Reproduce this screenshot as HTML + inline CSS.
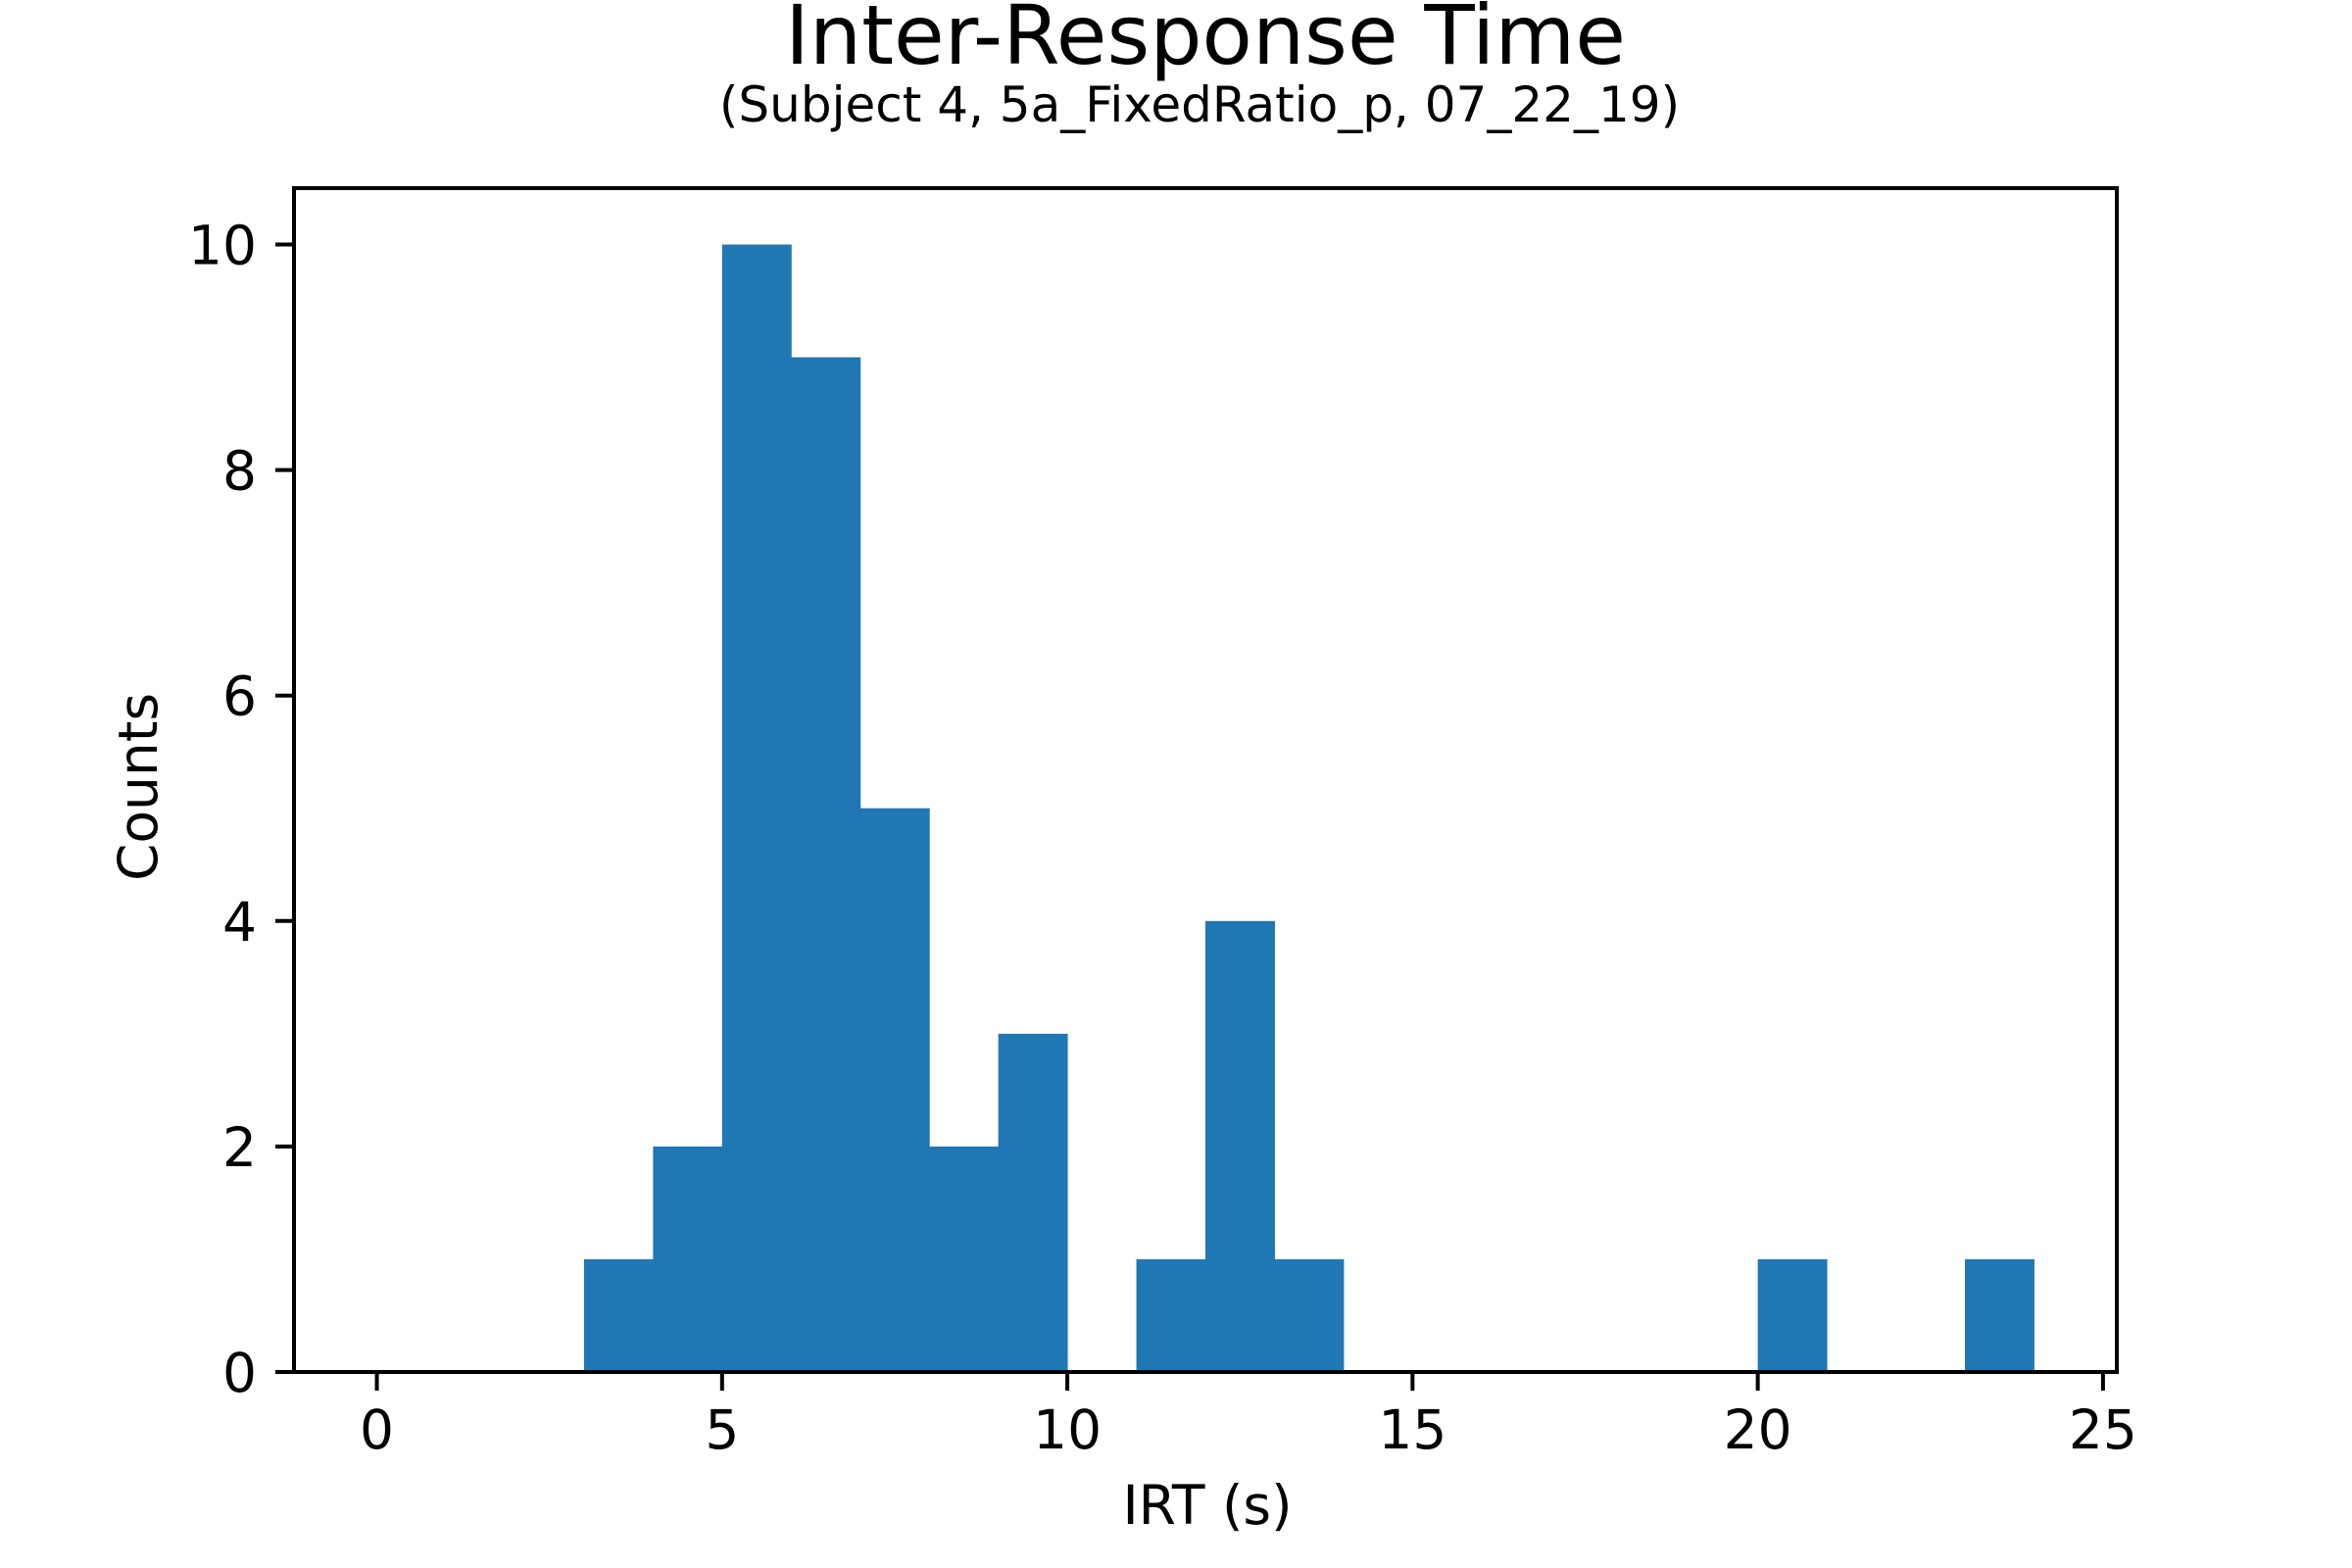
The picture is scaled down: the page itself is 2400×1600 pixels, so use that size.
<!DOCTYPE html>
<html><head><meta charset="utf-8"><style>body{margin:0;background:#fff}svg{display:block}text{font-family:"DejaVu Sans","Liberation Sans",sans-serif;fill:#000}</style></head>
<body>
<svg id="chart" width="2400" height="1600" viewBox="0 0 2400 1600" xmlns="http://www.w3.org/2000/svg">
<text x="1230" y="65" font-size="84" text-anchor="middle">Inter-Response Time</text>
<text x="1224" y="124" font-size="50" text-anchor="middle">(Subject 4, 5a_FixedRatio_p, 07_22_19)</text>
<g id="bars"></g>
<g id="axes"></g>
<text x="1232" y="1555" font-size="55" text-anchor="middle">IRT (s)</text>
<text x="0" y="0" font-size="55" text-anchor="middle" transform="translate(160,803) rotate(-90)">Counts</text>
</svg>
<script>
const binStarts = [3,4,5,6,7,8,9,10,11,12,13,14,15,16,17,18,19,20,21,22,23];
const counts =    [1,2,10,9,5,2,3,0,1,4,1,0,0,0,0,0,0,1,0,0,1];
const xTicks = [0,5,10,15,20,25];
const yTicks = [0,2,4,6,8,10];
const binWidth = 1;
const L=300,R=2160,T=192,B=1400;
const xMin=-1.2,xMax=25.2,yMin=0,yMax=10.5;
const sx=v=>L+(v-xMin)/(xMax-xMin)*(R-L);
const sy=v=>B-(v-yMin)/(yMax-yMin)*(B-T);
const NS='http://www.w3.org/2000/svg';
const bars=document.getElementById('bars'), axes=document.getElementById('axes');
function mk(tag,attrs,parent){const e=document.createElementNS(NS,tag);for(const k in attrs)e.setAttribute(k,attrs[k]);parent.appendChild(e);return e;}
binStarts.forEach((s,i)=>{
  if(!counts[i])return;
  const r=mk('rect',{x:sx(s),y:sy(counts[i]),width:sx(s+binWidth)-sx(s)+0.5,height:sy(0)-sy(counts[i]),fill:'#1f77b4'},bars);
  
  
});
const frame=mk('rect',{x:L,y:T,width:R-L,height:B-T,fill:'none',stroke:'#000','stroke-width':4},axes);


xTicks.forEach(v=>{
  const x=sx(v);
  mk('line',{x1:x,x2:x,y1:B,y2:B+19,stroke:'#000','stroke-width':4},axes);
  const t=mk('text',{x:x,y:B+78,'font-size':55,'text-anchor':'middle'},axes);
  t.textContent=v;
  
  
});
yTicks.forEach(v=>{
  const y=sy(v);
  mk('line',{x1:L-19,x2:L,y1:y,y2:y,stroke:'#000','stroke-width':4},axes);
  const t=mk('text',{x:L-38,y:y+20,'font-size':55,'text-anchor':'end'},axes);
  t.textContent=v;
  
  
});
</script>
</body></html>
